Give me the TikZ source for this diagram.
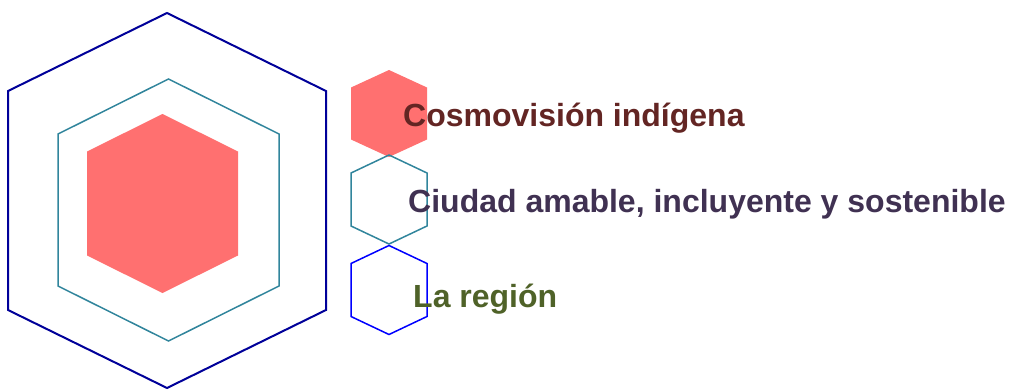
\documentclass[tikz,border=0pt]{standalone}
\usepackage{fontspec}
\setmainfont{Liberation Sans}

\definecolor{salmon}{HTML}{FF7070}
\definecolor{tealline}{HTML}{31859C}
\definecolor{navyline}{HTML}{000099}
\definecolor{blueline}{HTML}{0000FF}
\definecolor{cosmored}{HTML}{632523}
\definecolor{ciudadpurple}{HTML}{403152}
\definecolor{regiongreen}{HTML}{4F6228}

\begin{document}
\begin{tikzpicture}[
    x = 1pt, y = 1pt,
    line join = miter,
    hexline/.style = {line width = 1.5pt},
    item text/.style = {font=\fontsize{32}{38}\selectfont\bfseries, anchor = base west, inner sep = 0pt}
    ]

    % Determines the boundries
    \path [use as bounding box] (0,0) rectangle (1014,389);

    % centre x, centre y, half width, half height, half side
    \def\hexpath#1#2#3#4#5{(#1,#2+#4) -- (#1+#3,#2+#5) -- (#1+#3,#2-#5) -- (#1,#2-#4) -- (#1-#3,#2-#5) -- (#1-#3,#2+#5) -- cycle}

    % Nested hexagons
    \draw[hexline, navyline, line width = 2pt] \hexpath{167}{188.5}{159}{187.5}{109.5};
    \draw[hexline, tealline] \hexpath{168.5}{179}{110.5}{131}{76};
    \fill[salmon] \hexpath{162.5}{185.5}{75.5}{89.5}{52};

    % Small hexagons of the legend
    \fill[salmon] \hexpath{389}{275.5}{38}{43.5}{26};
    \foreach \y/\c in {189.5/tealline, 99/blueline}{
        \draw[hexline, \c] \hexpath{389}{\y}{38}{44.5}{26.5};
    }

    % Legend texts
    \node (cosmo) [item text, text = cosmored] at (403,262) {Cosmovisión indígena};
    \node (ciudad) [item text, text = ciudadpurple] at (408,177) {Ciudad amable, incluyente y sostenible};
    \node (region) [item text, text = regiongreen] at (413,82) {La región};

\end{tikzpicture}
\end{document}
